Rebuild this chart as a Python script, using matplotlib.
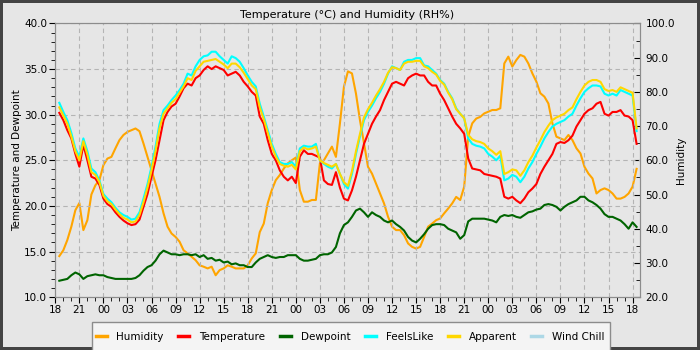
import pandas as pd
import matplotlib
matplotlib.use("Agg")
import matplotlib.pyplot as plt
import matplotlib.dates as mdates
from matplotlib.patches import Rectangle
from matplotlib.ticker import MultipleLocator

# readings every 30 minutes, starting 18:30 on day one
times = pd.date_range("2023-01-01 18:30", periods=145, freq="30min")

temperature = [
    30.2, 29.4, 28.3, 27.4, 25.7, 24.3, 26.7, 25.0, 23.2, 23.0, 22.3, 20.8,
    20.2, 19.9, 19.3, 18.8, 18.4, 18.1, 17.9, 18.0, 18.5, 19.9, 21.3, 23.2,
    25.0, 27.2, 29.4, 30.3, 30.9, 31.2, 32.0, 32.9, 33.4, 33.2, 34.0, 34.3,
    34.9, 35.3, 35.0, 35.3, 35.1, 34.9, 34.3, 34.5, 34.7, 34.3, 33.6, 33.1,
    32.5, 32.1, 29.8, 29.0, 27.2, 25.7, 25.0, 23.9, 23.2, 22.8, 23.2, 22.5,
    25.4, 26.1, 25.7, 25.7, 25.5, 25.3, 22.8, 22.4, 22.3, 23.7, 22.0, 20.8,
    20.6, 21.7, 23.2, 25.0, 26.8, 27.9, 29.0, 29.8, 30.5, 31.6, 32.5, 33.4,
    33.6, 33.4, 33.2, 34.0, 34.3, 34.5, 34.3, 34.3, 33.6, 33.2, 33.2, 32.3,
    31.6, 30.7, 29.8, 29.0, 28.5, 27.9, 25.2, 24.1, 24.0, 23.9, 23.5, 23.4,
    23.3, 23.2, 23.0, 21.0, 20.8, 21.0, 20.6, 20.3, 20.8, 21.5, 21.9, 22.4,
    23.5, 24.3, 25.0, 25.7, 26.8, 27.0, 26.9, 27.2, 27.7, 28.7, 29.4, 30.1,
    30.5, 30.7, 31.2, 31.4, 30.1, 29.9, 30.3, 30.3, 30.5, 29.9, 29.8, 29.4,
    26.8,
]

feels_like = [
    31.3, 30.3, 29.4, 28.0, 26.3, 25.4, 27.4, 26.0, 24.1, 23.7, 22.8, 21.3,
    20.8, 20.4, 19.8, 19.3, 19.0, 18.8, 18.5, 18.6, 19.3, 20.8, 22.4, 24.3,
    26.5, 29.0, 30.5, 31.0, 31.6, 32.1, 32.7, 33.4, 34.5, 34.3, 35.3, 36.0,
    36.4, 36.5, 36.9, 36.9, 36.4, 36.0, 35.6, 36.4, 36.2, 35.8, 35.1, 34.3,
    33.6, 33.1, 31.2, 29.8, 28.3, 26.8, 25.7, 24.8, 24.6, 24.6, 24.8, 24.3,
    26.3, 26.6, 26.5, 26.5, 26.8, 25.0, 24.6, 24.3, 24.1, 24.6, 23.5, 22.4,
    21.9, 23.5, 25.7, 27.6, 29.4, 30.3, 31.0, 31.8, 32.5, 33.4, 34.5, 35.3,
    35.1, 34.9, 35.8, 36.0, 36.0, 36.2, 36.2, 35.4, 35.3, 34.9, 34.5, 33.8,
    33.4, 32.5, 31.8, 30.7, 30.1, 29.6, 27.4, 26.8, 26.6, 26.5, 26.3, 25.7,
    25.4, 25.0, 25.5, 22.8, 23.0, 23.4, 23.2, 22.6, 23.2, 24.1, 24.8, 25.7,
    26.5, 27.4, 28.1, 28.7, 29.0, 29.2, 29.4, 29.8, 30.1, 31.0, 31.8, 32.5,
    32.9, 33.2, 33.2, 33.1, 32.3, 32.1, 32.3, 32.1, 32.7, 32.5, 32.3, 32.1,
    28.2,
]

apparent = [
    30.8, 29.9, 29.0, 27.6, 26.0, 25.0, 27.1, 25.6, 23.7, 23.4, 22.6, 21.1,
    20.5, 20.2, 19.6, 19.1, 18.7, 18.5, 18.2, 18.3, 19.0, 20.4, 22.0, 23.9,
    26.0, 28.5, 30.1, 30.7, 31.3, 31.7, 32.4, 33.1, 34.0, 33.8, 34.8, 35.3,
    35.8, 35.9, 36.0, 36.1, 35.8, 35.5, 35.1, 35.6, 35.6, 35.2, 34.6, 33.9,
    33.2, 32.8, 30.8, 29.5, 28.0, 26.5, 25.4, 24.6, 24.4, 24.3, 24.5, 24.0,
    26.0, 26.4, 26.2, 26.3, 26.5, 25.0, 24.7, 24.5, 24.3, 24.6, 23.5, 22.6,
    22.2, 23.8, 26.0, 27.9, 29.7, 30.6, 31.3, 32.1, 32.8, 33.6, 34.6, 35.2,
    35.1, 34.9, 35.6, 35.8, 35.8, 35.9, 35.9, 35.3, 35.1, 34.7, 34.4, 33.7,
    33.3, 32.4, 31.7, 30.6, 30.1, 29.6, 27.8, 27.3, 27.1, 27.0, 26.8, 26.3,
    26.0, 25.6, 26.0, 23.5, 23.7, 24.0, 23.9, 23.3, 23.9, 24.8, 25.5, 26.4,
    27.2, 28.1, 28.8, 29.4, 29.7, 29.9, 30.1, 30.5, 30.8, 31.7, 32.5, 33.2,
    33.6, 33.8, 33.8, 33.6, 32.8, 32.6, 32.7, 32.5, 33.0, 32.8, 32.6, 32.4,
    28.5,
]

dewpoint = [
    11.8, 11.9, 12.0, 12.4, 12.7, 12.5, 12.0, 12.3, 12.4, 12.5, 12.4, 12.4,
    12.2, 12.1, 12.0, 12.0, 12.0, 12.0, 12.0, 12.1, 12.4, 12.9, 13.3, 13.5,
    14.0, 14.7, 15.1, 14.9, 14.7, 14.7, 14.6, 14.7, 14.7, 14.6, 14.7, 14.4,
    14.6, 14.2, 14.3, 14.0, 14.1, 13.8, 13.9, 13.6, 13.7, 13.5, 13.5, 13.3,
    13.3, 13.8, 14.2, 14.4, 14.6, 14.4, 14.3, 14.4, 14.4, 14.6, 14.6, 14.6,
    14.2, 14.0, 14.0, 14.1, 14.2, 14.6, 14.7, 14.7, 14.9, 15.5, 17.0, 17.9,
    18.2, 18.8, 19.5, 19.7, 19.3, 18.8, 19.3, 19.0, 18.8, 18.4, 18.2, 18.4,
    18.0, 17.7, 17.3, 16.6, 16.2, 16.0, 16.4, 16.9, 17.5, 17.9, 18.0, 18.0,
    17.9, 17.5, 17.3, 17.1, 16.4, 16.8, 18.3, 18.6, 18.6, 18.6, 18.6, 18.5,
    18.4, 18.2, 18.8, 19.0, 18.9, 19.0, 18.8, 18.7, 19.0, 19.3, 19.4, 19.6,
    19.7, 20.1, 20.2, 20.1, 19.9, 19.5, 19.9, 20.2, 20.4, 20.6, 21.0, 21.0,
    20.6, 20.4, 20.1, 19.7, 19.1, 18.8, 18.8, 18.6, 18.4, 18.0, 17.5, 18.2,
    17.7,
]

humidity = [
    32.0, 33.7, 36.7, 40.6, 45.4, 47.5, 39.6, 42.5, 50.0, 52.7, 54.2, 58.6,
    60.5, 61.0, 63.5, 65.9, 67.4, 68.3, 68.8, 69.3, 68.5, 64.9, 61.0, 57.1,
    53.2, 49.3, 44.5, 40.6, 38.6, 37.6, 36.2, 33.7, 32.8, 31.8, 30.8, 29.3,
    28.9, 28.4, 28.9, 26.4, 27.9, 28.4, 29.3, 28.9, 28.4, 28.4, 28.4, 29.3,
    31.3, 32.8, 39.0, 41.5, 47.5, 51.3, 54.2, 55.7, 57.6, 59.1, 60.0, 60.8,
    51.3, 47.9, 47.9, 48.4, 48.4, 59.1, 60.0, 62.0, 64.0, 61.0, 70.8, 81.5,
    86.0, 85.4, 79.5, 71.7, 65.0, 58.1, 56.1, 53.2, 50.3, 47.4, 43.5, 40.6,
    39.6, 39.6, 38.1, 35.7, 34.7, 34.2, 34.7, 37.6, 40.6, 41.5, 42.5, 43.0,
    44.5, 45.9, 47.4, 49.3, 48.4, 52.3, 66.9, 70.8, 72.2, 72.7, 73.7, 74.2,
    74.7, 74.7, 75.2, 88.3, 90.3, 87.4, 89.3, 90.8, 90.3, 88.3, 85.4, 83.0,
    79.6, 78.6, 76.6, 70.8, 66.9, 66.4, 65.9, 67.4, 65.9, 63.5, 62.0, 58.1,
    56.1, 54.7, 50.3, 51.3, 51.8, 51.3, 50.3, 48.8, 48.8, 49.3, 50.3, 52.3,
    57.5,
]

series_names = ["Humidity", "Temperature", "Dewpoint", "FeelsLike", "Apparent", "Wind Chill"]

bg = "#e6e6e6"
plt.rcParams["font.size"] = 7.5

fig = plt.figure(figsize=(7, 3.5), dpi=100, facecolor=bg,
                 edgecolor="#444444", linewidth=3)
ax = fig.add_axes([0.079, 0.151, 0.835, 0.782])
ax2 = ax.twinx()

# humidity goes underneath the temperature lines
ax.set_zorder(ax2.get_zorder() + 1)
ax.patch.set_visible(False)
ax2.set_facecolor(bg)

lw = 1.5
h1, = ax2.plot(times, humidity, color="#ffa500", lw=lw)
h2, = ax.plot(times, temperature, color="#ff0000", lw=lw)
h3, = ax.plot(times, dewpoint, color="#006400", lw=lw)
h4, = ax.plot(times, feels_like, color="#00ffff", lw=lw)
h5, = ax.plot(times, apparent, color="#ffd700", lw=lw)
h6, = ax.plot([], [], color="#add8e6", lw=lw)

ax.set_ylim(10, 40)
ax2.set_ylim(20, 100)
ax.set_xlim(pd.Timestamp("2023-01-01 18:00"), pd.Timestamp("2023-01-04 18:54"))

ax.xaxis.set_major_locator(mdates.HourLocator(byhour=range(0, 24, 3)))
ax.xaxis.set_minor_locator(mdates.HourLocator())
ax.xaxis.set_major_formatter(mdates.DateFormatter("%H"))
ax.yaxis.set_major_locator(MultipleLocator(5))
ax.yaxis.set_minor_locator(MultipleLocator(1))
ax.yaxis.set_major_formatter("{x:.1f}")
ax2.yaxis.set_major_locator(MultipleLocator(10))
ax2.yaxis.set_minor_locator(MultipleLocator(5))
ax2.yaxis.set_major_formatter("{x:.1f}")

ax.grid(True, which="major", color="#b4b4b4", linestyle=(0, (4, 3)), lw=0.8)
for a in (ax, ax2):
    for s in a.spines.values():
        s.set_color("#8c8c8c")
ax.tick_params(which="both", direction="out", color="black", pad=2)
ax.tick_params(which="major", length=4)
ax.tick_params(which="minor", length=3)
ax2.tick_params(which="both", direction="in", color="black", pad=4)
ax2.tick_params(which="major", length=4)
ax2.tick_params(which="minor", length=3)

ax.set_ylabel("Temperature and Dewpoint", labelpad=1)
ax2.set_ylabel("Humidity", labelpad=1)
ax.set_title("Temperature (°C) and Humidity (RH%)", fontsize=8, pad=4)

# legend box sits on the bottom edge of the figure
fig.patches.append(Rectangle((92 / 700, -0.02), 518 / 700, 28 / 350 + 0.02,
                             transform=fig.transFigure, facecolor="#f4f4f4",
                             edgecolor="#8c8c8c", lw=1, zorder=0))
leg = fig.legend([h1, h2, h3, h4, h5, h6], series_names,
                 loc="center", bbox_to_anchor=(350 / 700, 1 - 337 / 350), ncol=6,
                 frameon=False, handlelength=1.05, handletextpad=0.95,
                 columnspacing=1.4)
for line in leg.get_lines():
    line.set_linewidth(2.5)

fig.savefig("out.png", dpi=100, facecolor=bg, edgecolor="#444444")
